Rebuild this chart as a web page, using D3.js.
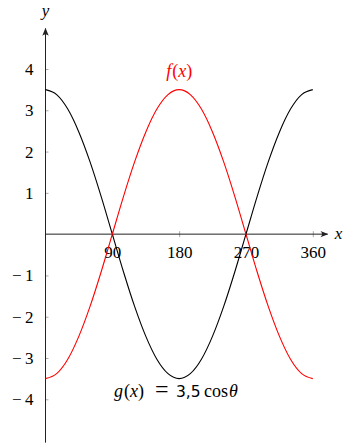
<!DOCTYPE html>
<html>
<head>
<meta charset="utf-8">
<script src="https://cdn.jsdelivr.net/npm/d3@7"></script>
<style>
  html, body { margin: 0; padding: 0; background: #fff; }
  svg { display: block; }
  svg text, svg tspan { font-family: "Liberation Serif", "Times New Roman", serif; }
</style>
</head>
<body>
<div id="chart"></div>
<script>
// angles (degrees) and values
const angles = [0, 15, 30, 45, 60, 75, 90, 105, 120, 135, 150, 165, 180,
                195, 210, 225, 240, 255, 270, 285, 300, 315, 330, 345, 360];
const gValues = [3.5, 3.38, 3.03, 2.47, 1.75, 0.91, 0, -0.91, -1.75, -2.47, -3.03, -3.38, -3.5,
                 -3.38, -3.03, -2.47, -1.75, -0.91, 0, 0.91, 1.75, 2.47, 3.03, 3.38, 3.5];
const fValues = [-3.5, -3.38, -3.03, -2.47, -1.75, -0.91, 0, 0.91, 1.75, 2.47, 3.03, 3.38, 3.5,
                 3.38, 3.03, 2.47, 1.75, 0.91, 0, -0.91, -1.75, -2.47, -3.03, -3.38, -3.5];
const xTicks = [90, 180, 270, 360];
const yTicks = [-4, -3, -2, -1, 1, 2, 3, 4];

function renderChart(container) {
    const width = 355, height = 444;
    const serif = "'Liberation Serif', 'Times New Roman', serif";
    const fs = "17px";

    const x = d3.scaleLinear().domain([0, 360]).range([45.5, 312.8]);
    const y = d3.scaleLinear().domain([-4, 4]).range([399.3, 69]);

    const svg = d3.select(container).append("svg")
        .attr("width", width)
        .attr("height", height)
        .style("font-family", serif);

    svg.append("defs").append("marker")
        .attr("id", "arrow")
        .attr("viewBox", "0 0 10 10")
        .attr("refX", 9).attr("refY", 5)
        .attr("markerWidth", 8).attr("markerHeight", 8)
        .attr("markerUnits", "userSpaceOnUse")
        .attr("orient", "auto")
        .append("path")
        .attr("d", "M0,1 Q4,5 0,9 L10,5 Z")
        .attr("fill", "#222");

    // x axis
    const xAxis = svg.append("g")
        .attr("transform", `translate(0,${y(0)})`)
        .call(d3.axisBottom(x).tickValues(xTicks).tickSize(3).tickPadding(9));
    xAxis.attr("font-family", null).style("font-family", serif);
    xAxis.select(".domain").remove();
    xAxis.selectAll(".tick line").attr("y1", -3).attr("stroke", "#aaa");
    xAxis.selectAll(".tick text")
        .style("font-family", serif)
        .style("font-size", fs)
        .attr("fill", "#000");

    // y axis
    const yAxis = svg.append("g")
        .attr("transform", `translate(${x(0)},0)`)
        .call(d3.axisLeft(y).tickValues(yTicks).tickSize(3).tickPadding(9)
            .tickFormat(d => d < 0 ? "\u2212\u2009" + Math.abs(d) : d));
    yAxis.attr("font-family", null).style("font-family", serif);
    yAxis.select(".domain").remove();
    yAxis.selectAll(".tick line").attr("x2", 3).attr("stroke", "#aaa");
    yAxis.selectAll(".tick text")
        .style("font-family", serif)
        .style("font-size", fs)
        .attr("fill", "#000");

    // axis lines with arrows
    svg.append("line")
        .attr("x1", x(0)).attr("x2", x(380))
        .attr("y1", y(0)).attr("y2", y(0))
        .attr("stroke", "#222").attr("stroke-width", 1)
        .attr("marker-end", "url(#arrow)");
    svg.append("line")
        .attr("x1", x(0)).attr("x2", x(0))
        .attr("y1", y(-5.05)).attr("y2", y(4.98))
        .attr("stroke", "#222").attr("stroke-width", 1)
        .attr("marker-end", "url(#arrow)");

    svg.append("text")
        .attr("x", x(380) + 7).attr("y", y(0) + 5)
        .style("font-family", serif).style("font-size", fs)
        .attr("font-style", "italic")
        .text("x");
    svg.append("text")
        .attr("x", x(0)).attr("y", 16)
        .attr("text-anchor", "middle")
        .style("font-family", serif).style("font-size", fs)
        .attr("font-style", "italic")
        .text("y");

    const line = d3.line()
        .x(d => x(d[0]))
        .y(d => y(d[1]))
        .curve(d3.curveMonotoneX);

    svg.append("path")
        .datum(d3.zip(angles, gValues))
        .attr("d", line)
        .attr("fill", "none")
        .attr("stroke", "#000")
        .attr("stroke-width", 1.1);

    svg.append("path")
        .datum(d3.zip(angles, fValues))
        .attr("d", line)
        .attr("fill", "none")
        .attr("stroke", "#f00")
        .attr("stroke-width", 1.1);

    // curve labels
    svg.append("text")
        .attr("x", x(180)).attr("y", 77)
        .attr("text-anchor", "middle")
        .style("font-family", serif).style("font-size", "18px")
        .attr("fill", "#f00")
        .call(t => {
            t.append("tspan").attr("font-style", "italic").text("f");
            t.append("tspan").attr("dx", 1).text("(");
            t.append("tspan").attr("font-style", "italic").text("x");
            t.append("tspan").text(")");
        });

    const g = svg.append("text")
        .attr("y", 397)
        .style("font-family", serif).style("font-size", "18px")
        .attr("fill", "#000");
    g.append("tspan").attr("x", 114).attr("font-style", "italic").text("g");
    g.append("tspan").attr("dx", 1).text("(");
    g.append("tspan").attr("font-style", "italic").text("x");
    g.append("tspan").text(")");
    g.append("tspan").attr("x", 155).style("font-size", "24px").text("=");
    g.append("tspan").attr("x", 176)
        .style("font-family", "'DejaVu Sans', sans-serif")
        .style("font-size", "15.5px")
        .text("3,5");
    g.append("tspan").attr("x", 204).text("cos");
    g.append("tspan").attr("x", 229).attr("font-style", "italic").text("\u03b8");
}

renderChart("#chart");
</script>
</body>
</html>
